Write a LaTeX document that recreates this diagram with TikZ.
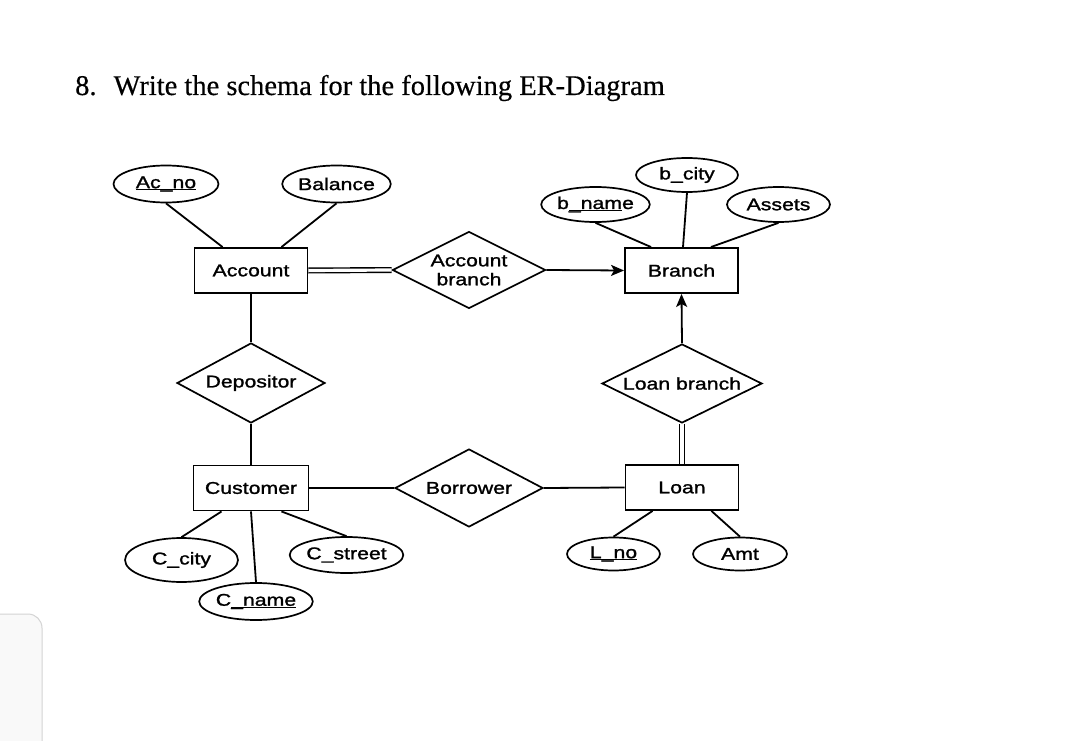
\documentclass[tikz,border=0pt]{standalone}
\usepackage{fontspec}
\setmainfont{Liberation Serif}
\newfontfamily\labfont[FakeStretch=1.25,FakeBold=1.4]{Liberation Sans}
\newfontfamily\titlefont[FakeBold=0.4]{Liberation Serif}
\usetikzlibrary{shapes.geometric,arrows.meta}
\definecolor{panelfill}{HTML}{F9F9F9}
\definecolor{panelline}{HTML}{D4D4D4}
\newcommand\ulx[1]{{\setbox0\hbox{#1}\rlap{\rule[-2.3pt]{\wd0}{1.2pt}}\box0}}
\begin{document}
\begin{tikzpicture}[x=1pt,y=-1pt,
  lab/.style={font=\labfont\fontsize{17}{19}\selectfont},
  ent/.style={lab, draw, line width=1.9pt, minimum width=113pt, minimum height=45pt, inner sep=0pt},
  attr/.style={lab, ellipse, draw, line width=1.7pt, inner sep=0pt},
  rel/.style={lab, diamond, draw, line width=1.7pt, inner sep=0pt, shape aspect=2, align=center},
  con/.style={line width=1.8pt},
  dbl/.style={line width=1.4pt, double, double distance=3.2pt},
  arr/.style={con, -{Stealth[length=13pt,width=11pt,inset=3pt]}}
]
\useasboundingbox (0,0) rectangle (1080,741);
\fill[white] (0,0) rectangle (1080,741);
\begin{scope}
  \clip (0,0) rectangle (1080,741);
  \draw[draw=panelline, fill=panelfill, line width=1pt, rounded corners=14pt] (-30,614) rectangle (42,780);
\end{scope}

\node[anchor=base west, inner sep=0pt, font=\titlefont\fontsize{28.5}{34}\selectfont] (title) at (75,95)
  {8.\hspace{17pt}Write the schema for the following ER-Diagram};

% entities
\node[ent] (account) at (251,270.5) {Account};
\node[ent] (branch) at (681.5,270.5) {Branch};
\node[ent, minimum width=115pt] (customer) at (251,488) {Customer};
\node[ent] (loan) at (682,487.5) {Loan};

% relationships
\node[rel, minimum width=153pt, minimum height=77pt] (accbr) at (469,270) {Account\\branch};
\node[rel, minimum width=148pt, minimum height=80pt] (depositor) at (251,383) {Depositor};
\node[rel, minimum width=160pt, minimum height=79pt] (loanbr) at (682,383.5) {Loan branch};
\node[rel, minimum width=148pt, minimum height=78pt] (borrower) at (469,488) {Borrower};

% attributes
\node[attr, minimum width=105pt, minimum height=37pt] (acno) at (166,184) {\ulx{Ac\_no}};
\node[attr, minimum width=103pt, minimum height=37pt] (balance) at (336.5,184) {Balance};
\node[attr, minimum width=105pt, minimum height=35pt] (bname) at (595.5,204.5) {b\ulx{\_nam}e};
\node[attr, minimum width=102pt, minimum height=34pt] (bcity) at (687,175) {b\_city};
\node[attr, minimum width=103pt, minimum height=35pt] (assets) at (778.5,204.5) {Assets};
\node[attr, minimum width=113pt, minimum height=44pt] (ccity) at (181.5,560) {C\_city};
\node[attr, minimum width=102pt, minimum height=37pt] (cname) at (256,601.5) {C\ulx{\_name}};
\node[attr, minimum width=103pt, minimum height=36pt] (cstreet) at (346.5,555) {C\_street};
\node[attr, minimum width=93pt, minimum height=33pt] (lno) at (613.5,554) {\ulx{L\_no}};
\node[attr, minimum width=94pt, minimum height=33pt] (amt) at (740,554) {Amt};

% attribute links
\draw[con] (acno.south) -- ([xshift=29pt]account.north west);
\draw[con] (balance.south) -- ([xshift=-27pt]account.north east);
\draw[con] (bname.south) -- ([xshift=27pt]branch.north west);
\draw[con] (bcity.south) -- ([xshift=1.5pt]branch.north);
\draw[con] (assets.south) -- ([xshift=-28pt]branch.north east);
\draw[con] (ccity.north) -- ([xshift=29pt]customer.south west);
\draw[con] (cname.north) -- (customer.south);
\draw[con] (cstreet.north) -- ([xshift=-28pt]customer.south east);
\draw[con] (lno.north) -- ([xshift=28pt]loan.south west);
\draw[con] (amt.north) -- ([xshift=-28pt]loan.south east);

% relationship links
\draw[dbl] (account.east) -- (accbr.west);
\draw[arr] (accbr.east) -- (branch.west);
\draw[con] (account.south) -- (depositor.north);
\draw[con] (depositor.south) -- (customer.north);
\draw[con] (customer.east) -- (borrower.west);
\draw[con] (borrower.east) -- (loan.west);
\draw[arr] (loanbr.north) -- (branch.south);
\draw[dbl] (loanbr.south) -- (loan.north);
\end{tikzpicture}
\end{document}
